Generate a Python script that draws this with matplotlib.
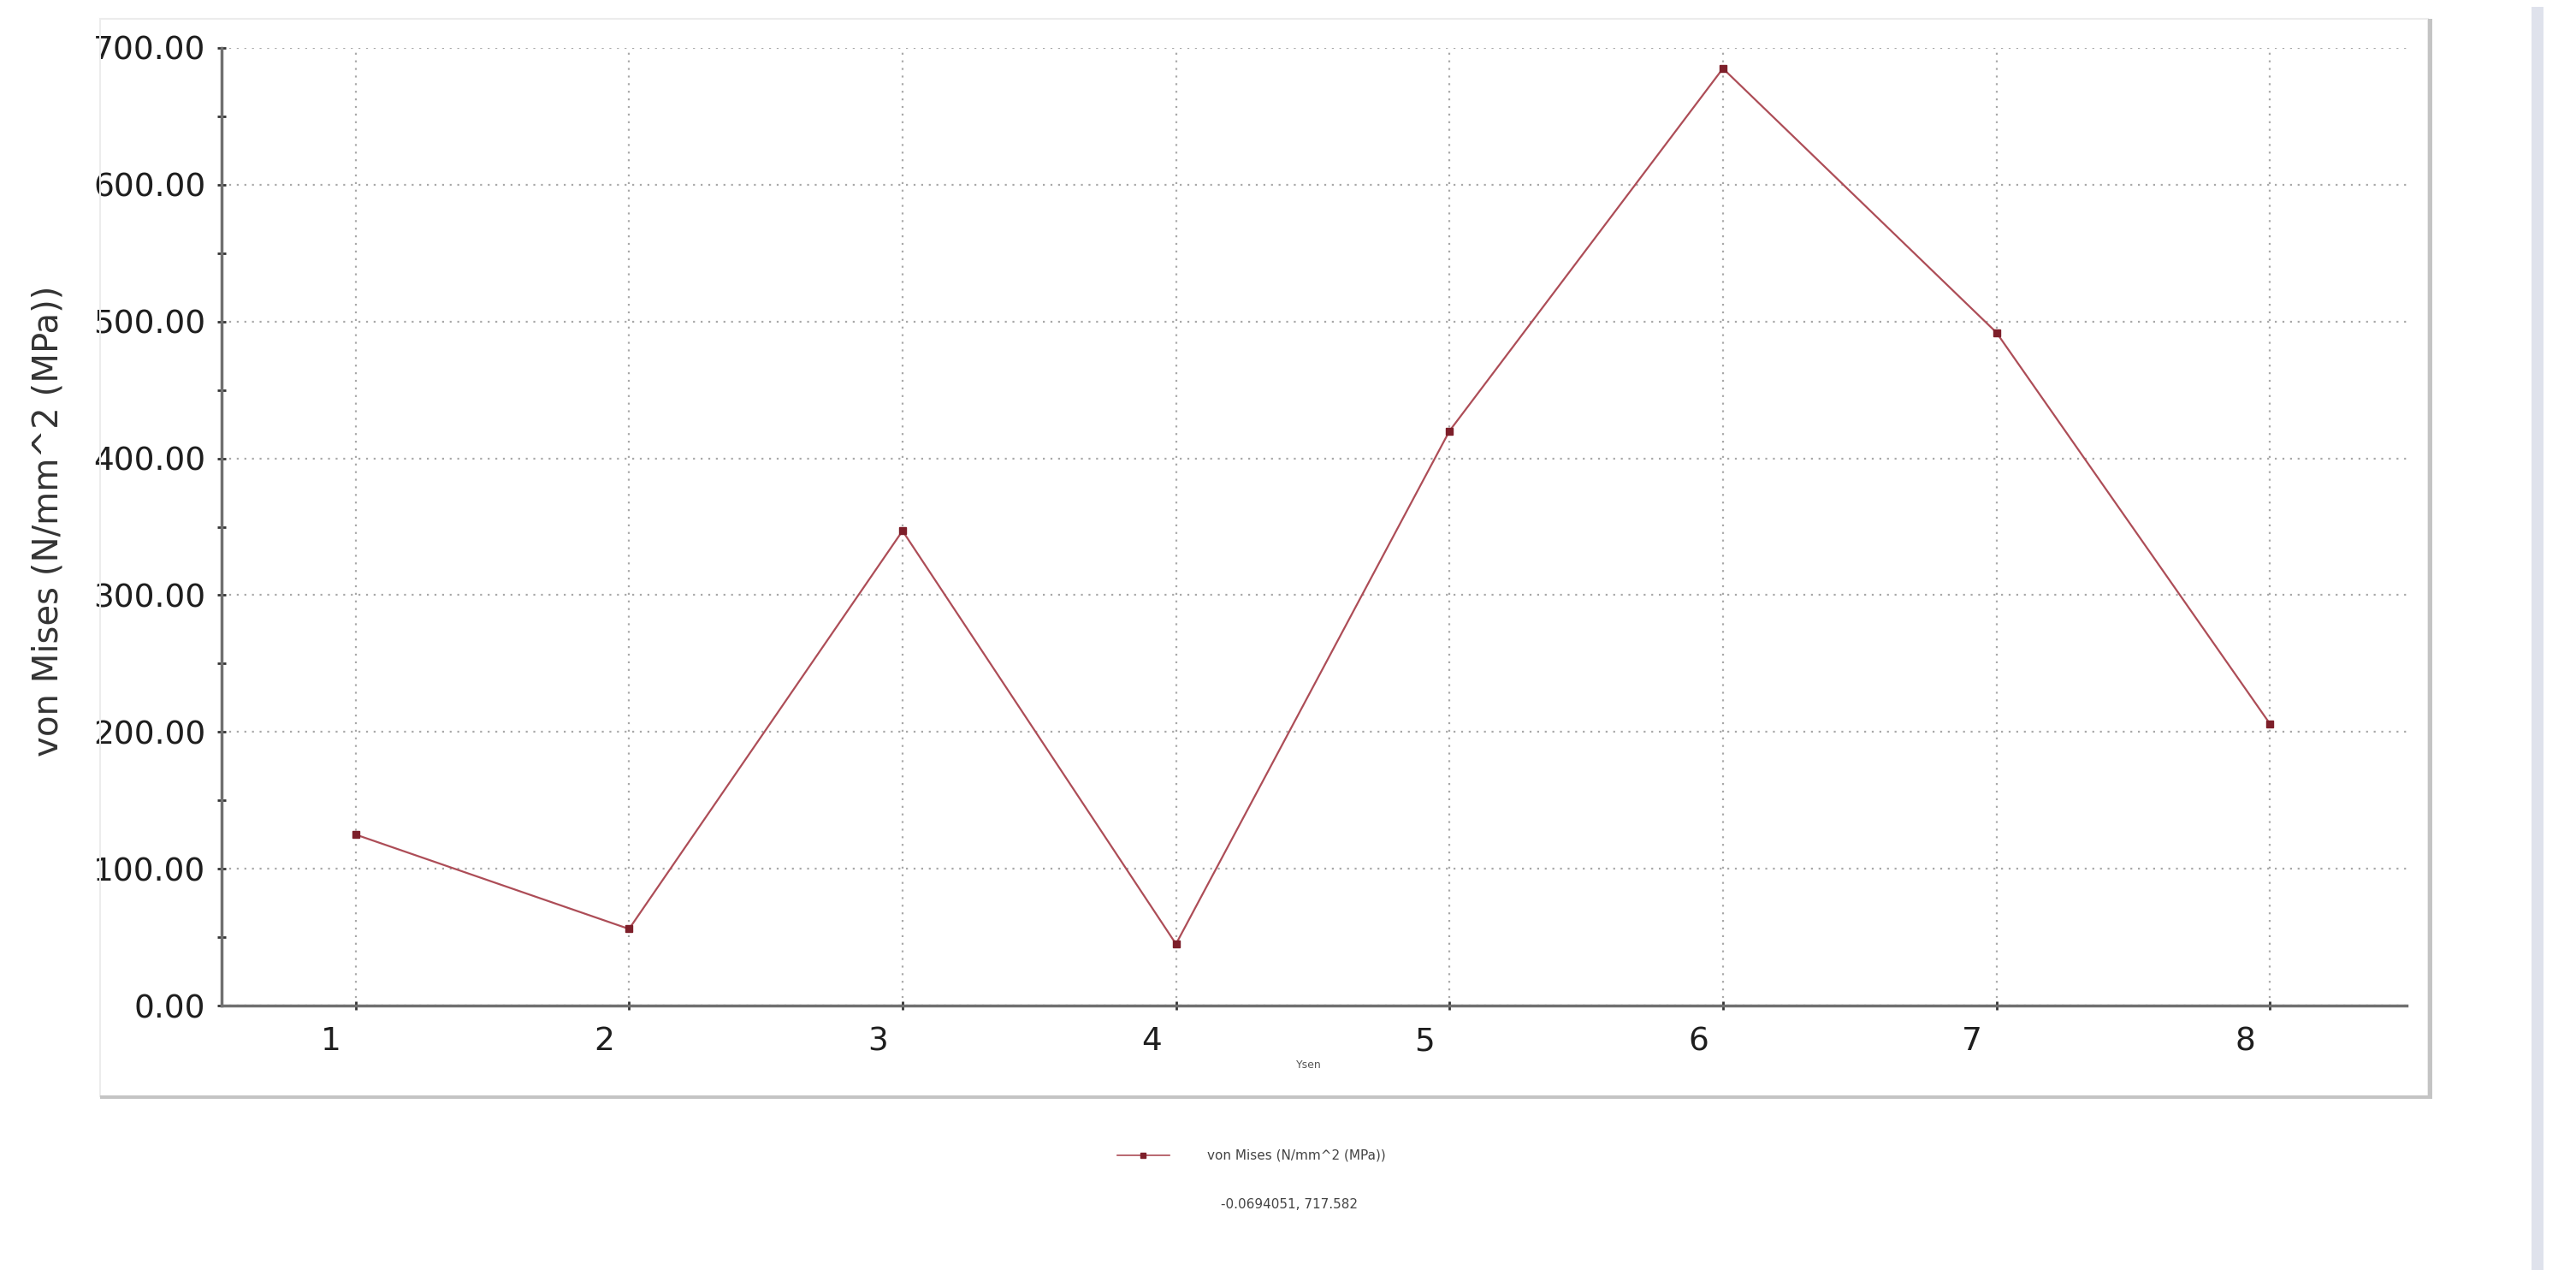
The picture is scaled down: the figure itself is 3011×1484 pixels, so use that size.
import matplotlib
matplotlib.use('Agg')
import matplotlib.pyplot as plt
import matplotlib.transforms as mtransforms
from matplotlib.patches import Rectangle
from matplotlib.ticker import MultipleLocator, FormatStrFormatter

# sample positions along the path and the von Mises stress at each one
positions = [1, 2, 3, 4, 5, 6, 7, 8]
von_mises = [125, 56, 347, 45, 420, 685, 492, 206]

series_label = 'von Mises (N/mm^2 (MPa))'
y_label = 'von Mises (N/mm^2 (MPa))'
x_label = 'Ysen'
cursor_text = '-0.0694051, 717.582'

line_color = '#ad4d57'
marker_color = '#7d1f2a'
grid_color = '#a8a8a8'
axis_color = '#707070'

plt.rcParams['font.family'] = ['DejaVu Sans']

fig = plt.figure(figsize=(30.11, 14.84), dpi=100)

# grey panel frame around the chart, with a darker shadow on the right/bottom
fig.patches.append(Rectangle((117 / 3011, 1 - 1281 / 1484), (2838 - 117) / 3011,
                             (1281 - 22) / 1484, transform=fig.transFigure,
                             fill=False, edgecolor='#ececec', lw=1.5))
fig.patches.append(Rectangle((2838 / 3011, 1 - 1284 / 1484), 5 / 3011,
                             (1284 - 22) / 1484, transform=fig.transFigure,
                             color='#c4c4c4', lw=0))
fig.patches.append(Rectangle((117 / 3011, 1 - 1284 / 1484), (2843 - 117) / 3011,
                             4 / 1484, transform=fig.transFigure,
                             color='#c4c4c4', lw=0))
# the bluish scroll bar strip on the far right
fig.patches.append(Rectangle((2959 / 3011, 0), 14 / 3011, 1 - 8 / 1484,
                             transform=fig.transFigure, color='#dfe2ec', lw=0))

ax = fig.add_axes([259 / 3011, 1 - 1175 / 1484, (2813 - 259) / 3011,
                   (1175 - 56) / 1484])

ax.plot(positions, von_mises, color=line_color, lw=1.6, marker='s',
        markersize=5.5, markerfacecolor=marker_color,
        markeredgecolor=marker_color, zorder=3)

ax.set_xlim(0.51, 8.5)
ax.set_ylim(0, 700)
ax.set_xticks(positions)
ax.yaxis.set_major_locator(MultipleLocator(100))
ax.yaxis.set_minor_locator(MultipleLocator(50))
ax.yaxis.set_major_formatter(FormatStrFormatter('%.2f'))

ax.grid(True, which='major', color=grid_color, linestyle=(0, (1, 3)), lw=1.6)
for side in ['top', 'right']:
    ax.spines[side].set_visible(False)
for side in ['left', 'bottom']:
    ax.spines[side].set_color(axis_color)
    ax.spines[side].set_linewidth(2.5)

ax.tick_params(axis='both', which='both', direction='inout', color='#333333',
               width=2, length=7, labelsize=27, labelcolor='#1e1e1e')
ax.tick_params(axis='y', pad=10)
ax.tick_params(axis='x', pad=14)

# tick labels of the x axis sit a bit left of their grid lines
shift = mtransforms.ScaledTranslation(-29 / 100, 0, fig.dpi_scale_trans)
for lab in ax.get_xticklabels():
    lab.set_transform(lab.get_transform() + shift)

ax.set_ylabel(y_label, fontsize=29, color='#333333')
ax.yaxis.set_label_coords(-0.0713, 0.506)
fig.text(1530 / 3011, 1 - 1244 / 1484, x_label, fontsize=9, color='#555555',
         ha='center', va='center')

# legend entry and cursor readout under the chart
fig.add_artist(plt.Line2D([1306 / 3011, 1367 / 3011], [1 - 1350 / 1484] * 2,
                          color=line_color, lw=1.2))
fig.add_artist(plt.Line2D([1336 / 3011], [1 - 1350 / 1484], marker='s',
                          markersize=5, color=marker_color))
fig.text(1411 / 3011, 1 - 1350 / 1484, series_label, fontsize=11,
         color='#444444', ha='left', va='center')
fig.text(1507 / 3011, 1 - 1407 / 1484, cursor_text, fontsize=11,
         color='#444444', ha='center', va='center')

fig.savefig('out.png', dpi=100, facecolor='white')
